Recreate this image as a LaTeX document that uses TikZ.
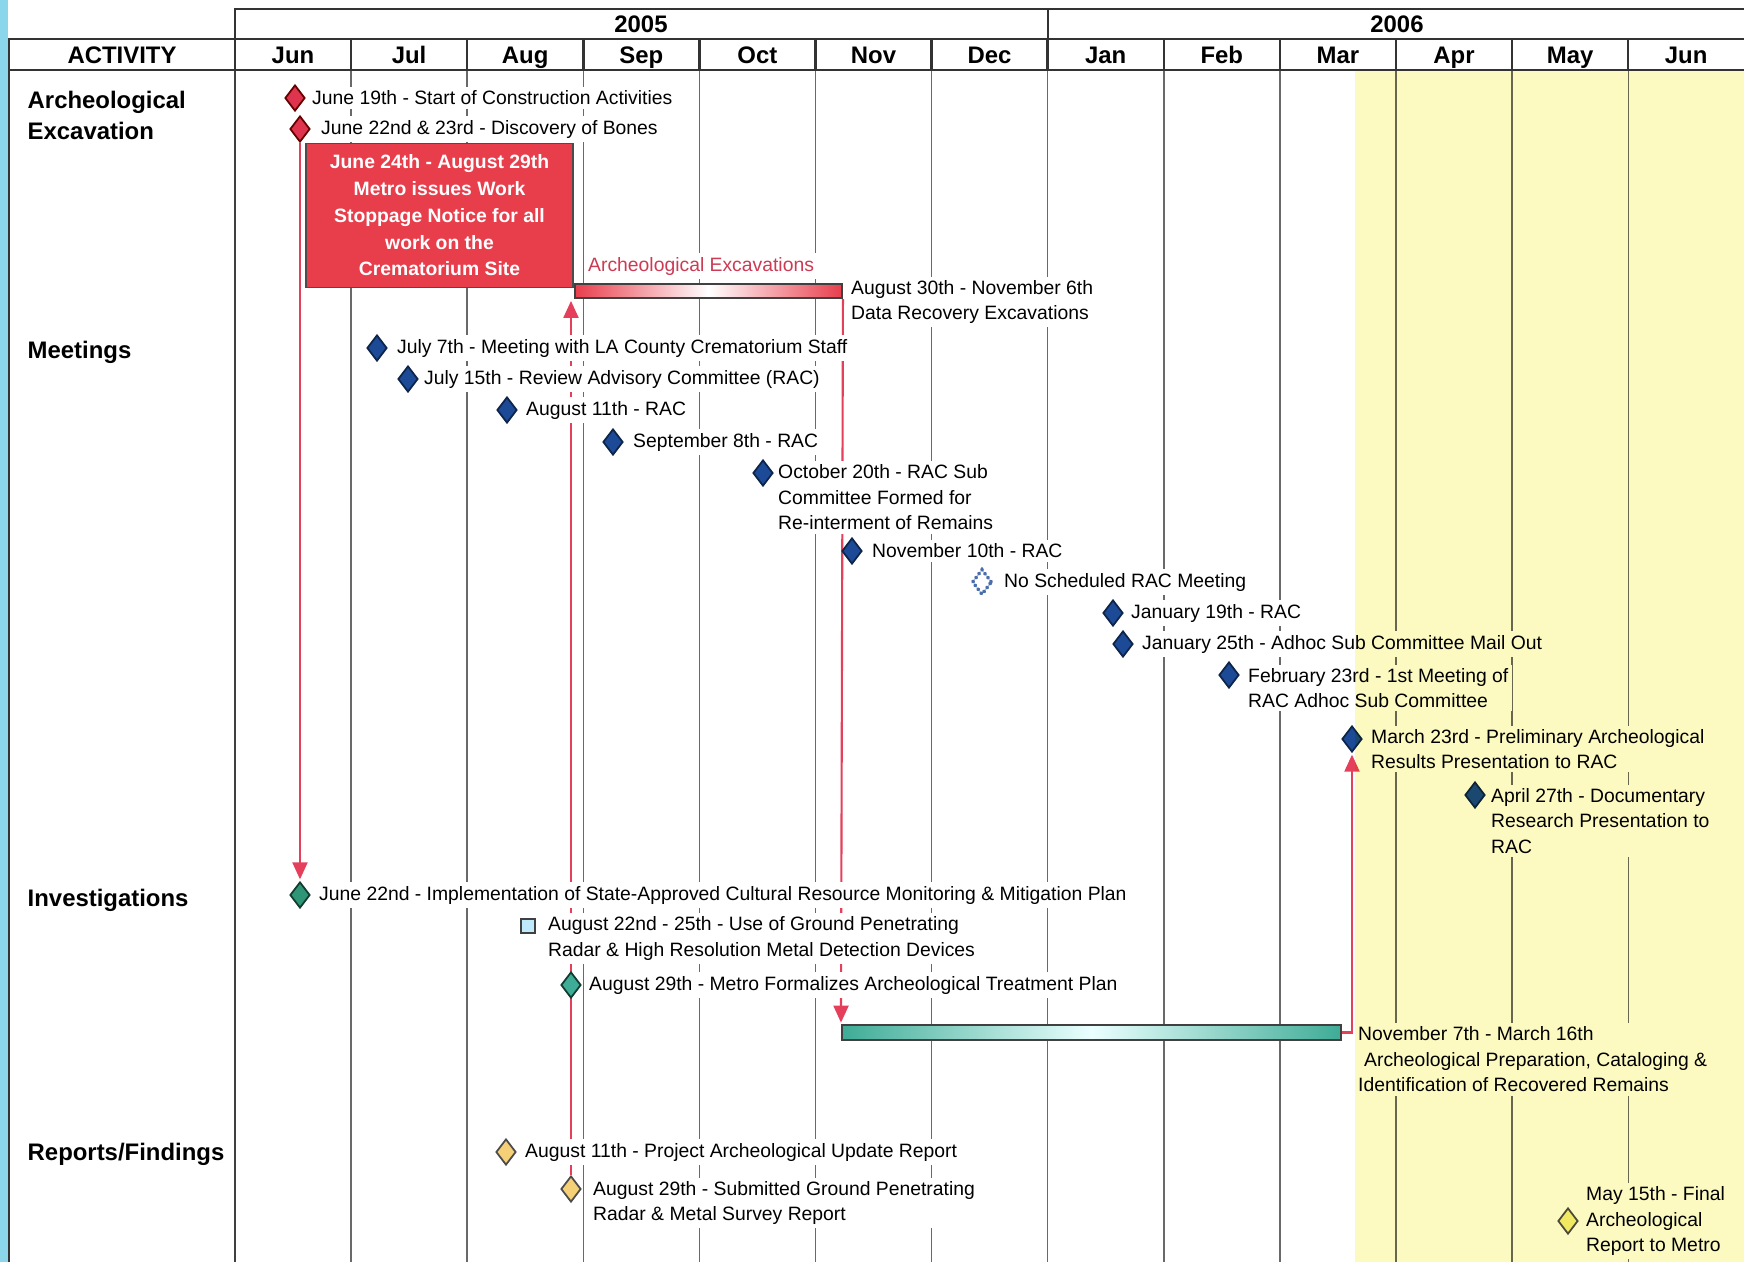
\documentclass[tikz,border=0pt]{standalone}
\usepackage{fontspec}
\setmainfont{Liberation Sans}
\usetikzlibrary{shapes.geometric,arrows.meta,positioning}
\pgfdeclarelayer{grid}
\pgfdeclarelayer{links}
\pgfdeclarelayer{tint}
\pgfsetlayers{grid,links,main,tint}
\definecolor{stripblue}{RGB}{140,214,236}
\definecolor{springyellow}{RGB}{252,250,192}
\definecolor{gridgray}{RGB}{105,105,105}
\definecolor{linkred}{RGB}{228,64,92}
\definecolor{boxred}{RGB}{232,62,76}
\definecolor{digred}{RGB}{222,52,78}
\definecolor{ragblue}{RGB}{28,74,150}
\definecolor{invgreen}{RGB}{46,150,118}
\definecolor{barteal}{RGB}{62,172,150}
\definecolor{repgold}{RGB}{246,208,118}
\definecolor{replemon}{RGB}{244,238,130}
\newcommand{\evtfont}{\fontsize{5.5}{7.25}\selectfont}
\newcommand{\catfont}{\fontsize{6.8}{8.8}\selectfont\bfseries}
\newcommand{\stopfont}{\fontsize{5.5}{7.6}\selectfont\bfseries}

\begin{document}
\begin{tikzpicture}[x=0.01cm, y=-0.01cm, >={Triangle[width=1.5mm,length=1.7mm]},
  hdr/.style={draw=black!80, line width=0.7pt},
  cat label/.style={anchor=west, inner sep=0pt, align=left, font=\catfont},
  head label/.style={anchor=base, inner sep=0pt, font=\catfont},
  evt/.style={anchor=west, fill=white, inner sep=1pt, align=left, font=\evtfont},
  gem/.style={diamond, draw=black!80, line width=0.5pt, minimum width=2mm, minimum height=2.6mm, inner sep=0pt},
  red gem/.style={gem, fill=digred, draw=red!40!black},
  blue gem/.style={gem, fill=ragblue, draw=ragblue!50!black},
  green gem/.style={gem, fill=invgreen, draw=invgreen!40!black},
  gold gem/.style={gem, fill=repgold, draw=black!70},
  lemon gem/.style={gem, fill=replemon, draw=black!70},
  link/.style={draw=linkred, line width=0.6pt, ->, shorten >=0.5pt},
  span bar/.style={rectangle, draw=black!75, line width=0.5pt, inner sep=0pt, minimum height=1.45mm}]

  \useasboundingbox (0,0) rectangle (1744,1262);
  \fill[stripblue] (0,0) rectangle (8,1262);

  % month grid
  \begin{pgfonlayer}{grid}
    \foreach \i in {1,...,12}
      \draw[gridgray, line width=0.4pt] (235+116.1*\i,70) -- (235+116.1*\i,1262);
    \draw[gridgray!60!black, line width=0.5pt] (235,70) -- (235,1262);
  \end{pgfonlayer}

  % header
  \draw[hdr] (235,70) -- (235,9) -- (1744,9);
  \draw[hdr] (9,1262) -- (9,39) -- (1744,39);
  \draw[hdr] (9,70) -- (1744,70);
  \draw[hdr] (1048,9) -- (1048,39);
  \foreach \i in {1,...,12}
    \draw[hdr] (235+116.1*\i,39) -- (235+116.1*\i,70);
  \node[head label] (activity) at (122,63) {ACTIVITY};
  \node[head label] (y2005) at (641,32) {2005};
  \node[head label] (y2006) at (1397,32) {2006};
  \foreach \m [count=\i from 0] in {Jun,Jul,Aug,Sep,Oct,Nov,Dec,Jan,Feb,Mar,Apr,May,Jun}
    \node[head label] (mon\i) at (293+116.1*\i,63) {\m};

  % activity rows
  \node[cat label] (catdig) at (27,115.5) {Archeological\\Excavation};
  \node[cat label] (catmeet) at (27,352) {Meetings};
  \node[cat label] (catinv) at (27,900) {Investigations};
  \node[cat label] (catrep) at (27,1154) {Reports/Findings};

  % archeological excavation
  \node[red gem] (ex1) at (295,98) {};
  \node[evt] (ex1t) at (308,98) {June 19th - Start of Construction Activities};
  \node[red gem] (ex2) at (300,129) {};
  \node[evt] (ex2t) at (317,129) {June 22nd \& 23rd - Discovery of Bones};
  \node[rectangle, draw=black!70, fill=boxred, text=white, font=\stopfont, align=center,
        minimum width=2.67cm, minimum height=1.39cm] (stopbox) at (439.5,215.5)
        {June 24th - August 29th\\Metro issues Work\\Stoppage Notice for all\\work on the\\Crematorium Site};
  \node[evt, text=linkred!90!black] (exlbl) at (584,266) {Archeological Excavations};
  \node[span bar, minimum width=2.67cm, left color=boxred, right color=boxred, middle color=white] (exbar) at (708.5,291) {};
  \node[evt] (exnote) at (847,302) {August 30th - November 6th\\Data Recovery Excavations};

  % meetings
  \node[blue gem] (m1) at (377,348) {};
  \node[evt] (m1t) at (393,348) {July 7th - Meeting with LA County Crematorium Staff};
  \node[blue gem] (m2) at (408,379) {};
  \node[evt] (m2t) at (420,379) {July 15th - Review Advisory Committee (RAC)};
  \node[blue gem] (m3) at (507,410) {};
  \node[evt] (m3t) at (522,410) {August 11th - RAC};
  \node[blue gem] (m4) at (613,442) {};
  \node[evt] (m4t) at (629,442) {September 8th - RAC};
  \node[blue gem] (m5) at (763,473) {};
  \node[evt] (m5t) at (774,497.5) {October 20th - RAC Sub\\Committee Formed for\\Re-interment of Remains};
  \node[blue gem] (m6) at (852,551) {};
  \node[evt] (m6t) at (868,551) {November 10th - RAC};
  \node[gem, fill=none, draw=ragblue!80, line width=1pt, dash pattern=on 0.3pt off 1.1pt, line cap=round] (m7) at (982,582) {};
  \node[evt] (m7t) at (1000,582) {No Scheduled RAC Meeting};
  \node[blue gem] (m8) at (1113,613) {};
  \node[evt] (m8t) at (1127,613) {January 19th - RAC};
  \node[blue gem] (m9) at (1123,644) {};
  \node[evt] (m9t) at (1138,644) {January 25th - Adhoc Sub Committee Mail Out};
  \node[blue gem] (m10) at (1229,675) {};
  \node[evt] (m10t) at (1244,688) {February 23rd - 1st Meeting of\\RAC Adhoc Sub Committee};
  \node[blue gem] (m11) at (1352,739) {};
  \node[evt] (m11t) at (1367,749) {March 23rd - Preliminary Archeological\\Results Presentation to RAC};
  \node[blue gem] (m12) at (1475,795) {};
  \node[evt] (m12t) at (1487,821) {April 27th - Documentary\\Research Presentation to\\RAC};

  % investigations
  \node[green gem] (inv1) at (300,895) {};
  \node[evt] (inv1t) at (315,895) {June 22nd - Implementation of State-Approved Cultural Resource Monitoring \& Mitigation Plan};
  \node[rectangle, draw=black!75, fill=cyan!25, minimum size=1.4mm, inner sep=0pt, line width=0.6pt] (inv2) at (528,926) {};
  \node[evt] (inv2t) at (544,938.5) {August 22nd - 25th - Use of Ground Penetrating\\Radar \& High Resolution Metal Detection Devices};
  \node[green gem, fill=barteal] (inv3) at (571,985) {};
  \node[evt] (inv3t) at (585,985) {August 29th - Metro Formalizes Archeological Treatment Plan};
  \node[span bar, minimum width=4.99cm, left color=barteal, right color=barteal, middle color=cyan!8] (labbar) at (1091.5,1032.5) {};
  \node[evt] (labnote) at (1354,1059.5) {November 7th - March 16th\\\hspace*{0.6mm}Archeological Preparation, Cataloging \&\\Identification of Recovered Remains};

  % reports
  \node[gold gem] (rep1) at (506,1152) {};
  \node[evt] (rep1t) at (521,1152) {August 11th - Project Archeological Update Report};
  \node[gold gem] (rep2) at (571,1189) {};
  \node[evt] (rep2t) at (589,1203) {August 29th - Submitted Ground Penetrating\\Radar \& Metal Survey Report};
  \node[lemon gem] (rep3) at (1568,1221) {};
  \node[evt] (rep3t) at (1582,1221) {May 15th - Final\\Archeological\\Report to Metro};

  % red connectors
  \begin{pgfonlayer}{links}
    \draw[link] (ex2.south) -- (inv1.north);
    \draw[link] (rep2.north) -- (rep2.north |- exbar.south);
    \draw[link] (exbar.south east) -- (labbar.north west);
    \draw[link] (labbar.east) -| (m11.south);
  \end{pgfonlayer}

  % shaded months
  \begin{pgfonlayer}{tint}
    \fill[springyellow, blend mode=multiply] (1355,71) rectangle (1744,1262);
  \end{pgfonlayer}
\end{tikzpicture}
\end{document}
